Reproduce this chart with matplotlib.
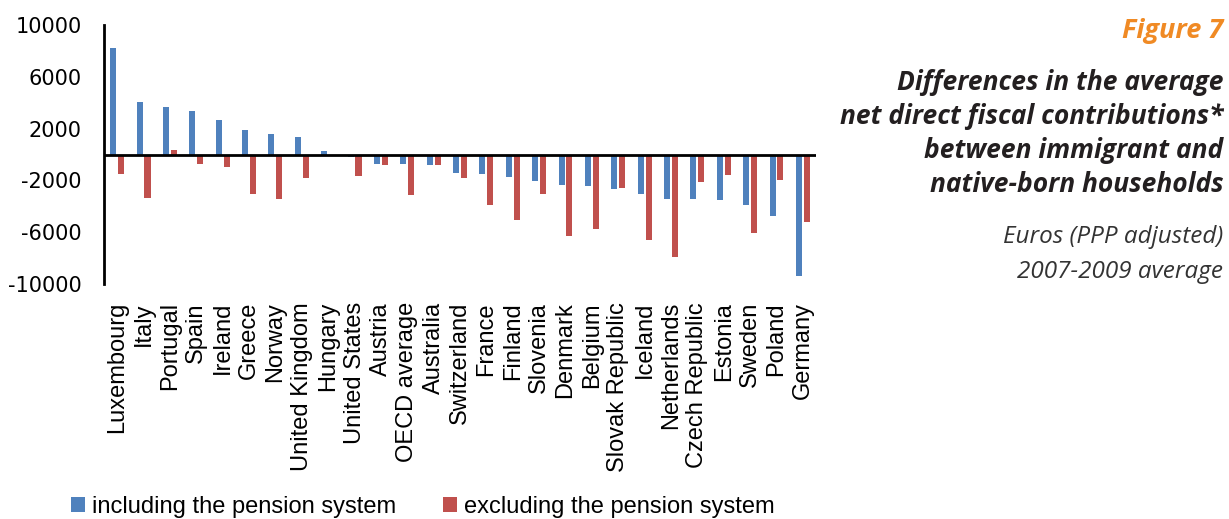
import matplotlib
matplotlib.use('Agg')
import matplotlib.pyplot as plt
import numpy as np

countries = ['Luxembourg', 'Italy', 'Portugal', 'Spain', 'Ireland', 'Greece', 'Norway',
             'United Kingdom', 'Hungary', 'United States', 'Austria', 'OECD average',
             'Australia', 'Switzerland', 'France', 'Finland', 'Slovenia', 'Denmark',
             'Belgium', 'Slovak Republic', 'Iceland', 'Netherlands', 'Czech Republic',
             'Estonia', 'Sweden', 'Poland', 'Germany']

# euros
incl_pension = [8200, 4030, 3640, 3380, 2660, 1920, 1580, 1330, 290, -170, -760, -760,
                -840, -1450, -1530, -1760, -2070, -2330, -2430, -2660, -3070, -3410,
                -3440, -3490, -3900, -4730, -9360]
excl_pension = [-1500, -3340, 320, -710, -940, -3050, -3460, -1790, 0, -1640, -790, -3150,
                -790, -1840, -3900, -5030, -3030, -6320, -5780, -2560, -6580, -7890,
                -2150, -1610, -6060, -1990, -5240]

yticks = [10000, 6000, 2000, -2000, -6000, -10000]

blue = '#4F81BD'
red = '#C0504D'

fig = plt.figure(figsize=(12.29, 5.19), dpi=100)
ax = fig.add_axes([0.0846, 0.4528, 0.5794, 0.499])

x = np.arange(len(countries))
ax.bar(x - 0.15, incl_pension, width=0.23, color=blue, label='including the pension system')
ax.bar(x + 0.15, excl_pension, width=0.23, color=red, label='excluding the pension system')
ax.axhline(0, color='black', lw=2, zorder=3)

ax.set_xlim(-0.5, len(countries) - 0.5)
ax.set_ylim(-10000, 10000)
ax.set_yticks(yticks)
ax.set_yticklabels([str(v) for v in yticks], fontsize=15, family='DejaVu Sans')
ax.set_xticks(x)
ax.set_xticklabels(countries, rotation=90, fontsize=17, family='Liberation Sans', va='top')
ax.tick_params(axis='both', length=0)
ax.tick_params(axis='y', pad=16)
ax.tick_params(axis='x', pad=13)

for s in ['top', 'right', 'bottom']:
    ax.spines[s].set_visible(False)
ax.spines['left'].set_linewidth(2)

fig.legend(loc='center', bbox_to_anchor=(0.344, 0.024), ncol=2, frameon=False,
           prop={'family': 'Liberation Sans', 'size': 17},
           handlelength=0.6, handleheight=0.6, handletextpad=0.3, columnspacing=2.0)

fig.text(0.9955, 0.94, 'Figure 7', ha='right', va='center', color='#F08A24',
         fontsize=19.5, fontweight='bold', style='italic', family='Open Sans')
title_lines = ['Differences in the average', 'net direct fiscal contributions*',
               'between immigrant and', 'native-born households']
for i, line in enumerate(title_lines):
    fig.text(0.9955, 1 - (82 + 34 * i) / 519, line, ha='right', va='center',
             color='#231F20', fontsize=19, fontweight='bold', style='italic',
             family='Open Sans')
fig.text(0.9955, 1 - 237 / 519, 'Euros (PPP adjusted)', ha='right', va='center',
         color='#333333', fontsize=17.5, style='italic', family='Open Sans')
fig.text(0.9955, 1 - 272 / 519, '2007-2009 average', ha='right', va='center',
         color='#333333', fontsize=17.5, style='italic', family='Open Sans')

plt.savefig('out.png', dpi=100)
